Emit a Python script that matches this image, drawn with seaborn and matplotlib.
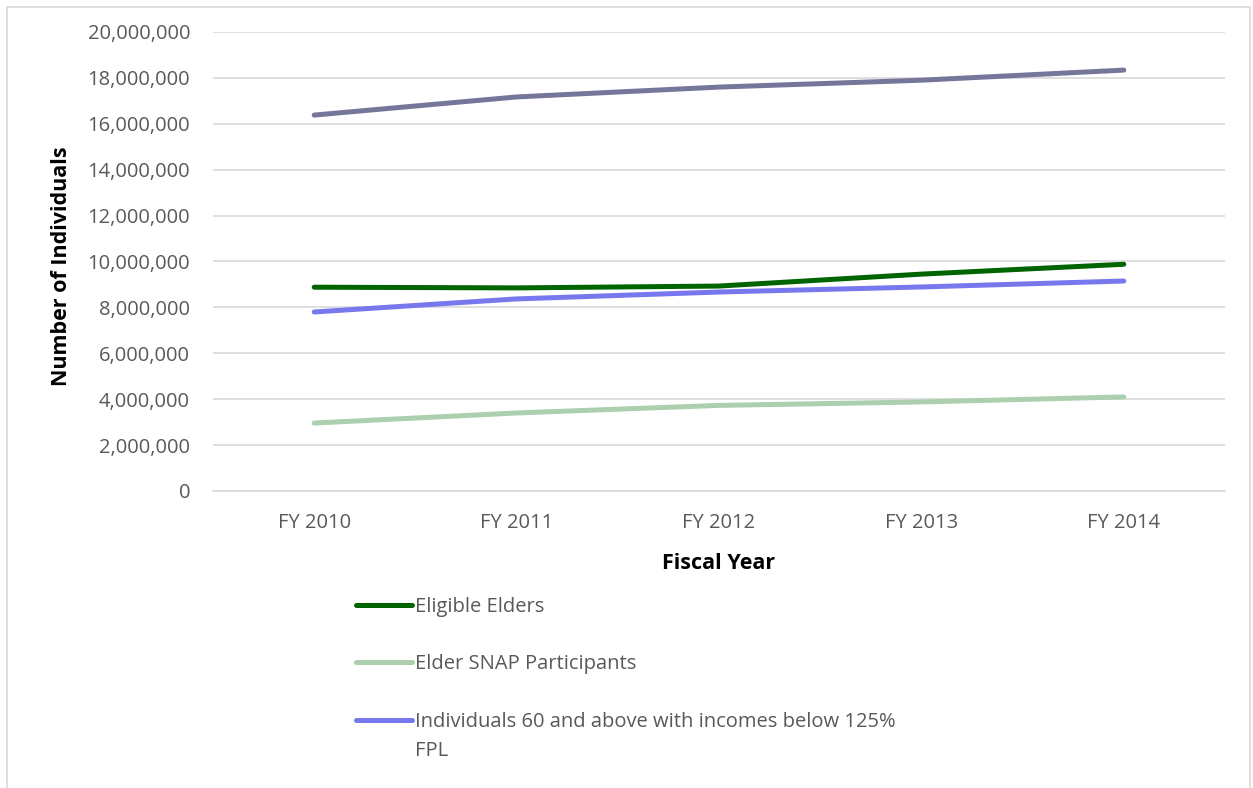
import matplotlib
matplotlib.use("Agg")
import matplotlib.pyplot as plt
from matplotlib.lines import Line2D
from matplotlib.patches import Rectangle
from matplotlib.ticker import FuncFormatter
from matplotlib.transforms import ScaledTranslation
import seaborn as sns
import pandas as pd

# Data
years = ["FY 2010", "FY 2011", "FY 2012", "FY 2013", "FY 2014"]
all_elders = [16380000, 17170000, 17600000, 17900000, 18340000]
eligible_elders = [8880000, 8850000, 8930000, 9450000, 9880000]
snap_participants = [2960000, 3400000, 3730000, 3880000, 4100000]
low_income_60 = [7800000, 8370000, 8670000, 8890000, 9150000]

series_names = ["All Elders", "Eligible Elders", "Elder SNAP Participants",
                "Individuals 60 and above with incomes below 125%\nFPL"]
series_values = [all_elders, eligible_elders, snap_participants, low_income_60]
colors = ["#76769a", "#006400", "#acd0ae", "#7878ee"]

df = pd.DataFrame([
    {"Fiscal Year": y, "Individuals": v, "Series": name}
    for name, vals in zip(series_names, series_values)
    for y, v in zip(years, vals)
])

sns.set_style("white")
plt.rcParams['font.family'] = ['Open Sans', 'DejaVu Sans']

fig = plt.figure(figsize=(12.53, 7.88), dpi=100)
ax = fig.add_axes([213 / 1253, 1 - 491 / 788, (1225 - 213) / 1253, (491 - 32) / 788])

sns.lineplot(data=df, x="Fiscal Year", y="Individuals", hue="Series",
             palette=dict(zip(series_names, colors)), linewidth=3.6,
             sort=False, ax=ax, legend=False)
for line in ax.get_lines():
    line.set_solid_capstyle("round")
    line.set_solid_joinstyle("round")

ax.set_xlim(-0.5, len(years) - 0.5)
ax.set_ylim(0, 20000000)
ax.set_yticks(range(0, 20000001, 2000000))
ax.yaxis.set_major_formatter(FuncFormatter(lambda v, p: f"{int(v):,}"))
ax.grid(axis="y", color="#d9d9d9", linewidth=1.2)
ax.set_axisbelow(True)
for s in ["top", "right", "left"]:
    ax.spines[s].set_visible(False)
ax.spines["bottom"].set_color("#d9d9d9")
ax.spines["bottom"].set_linewidth(1.2)
ax.tick_params(axis="both", length=0, labelsize=14.5, labelcolor="#595959")
ax.tick_params(axis="y", pad=16.5)
ax.tick_params(axis="x", pad=16)

ax.set_xlabel("Fiscal Year", fontsize=15.5, fontweight="bold", color="black")
ax.set_ylabel("Number of Individuals", fontsize=15.5, fontweight="bold", color="black")
ax.xaxis.set_label_coords(0.5, -0.135)
ax.yaxis.set_label_coords(-0.139, 0.49)

# Legend only for the three named series
handles = [Line2D([0], [0], color=c, linewidth=3.6, solid_capstyle="round")
           for c in colors[1:]]
leg = fig.legend(handles, series_names[1:], loc="upper left",
                 bbox_to_anchor=(356 / 1253, 1 - 597 / 788), frameon=False,
                 fontsize=14.5, labelcolor="#595959", handlelength=2.8,
                 handletextpad=0.15, labelspacing=1.85, borderpad=0,
                 borderaxespad=0)
for t in leg.get_texts():
    t.set_linespacing(1.6)
# put the wrapped entry's line next to its first text line
h = leg.legend_handles[2]
h.set_transform(h.get_transform() + ScaledTranslation(0, 11.5 / 72, fig.dpi_scale_trans))

# Chart border
fig.patches.append(Rectangle((7 / 1253, -0.01), 1243 / 1253, 1 - 7 / 788 + 0.01,
                             transform=fig.transFigure, fill=False,
                             edgecolor="#d9d9d9", linewidth=1.2))

fig.savefig("out.png", dpi=100)
